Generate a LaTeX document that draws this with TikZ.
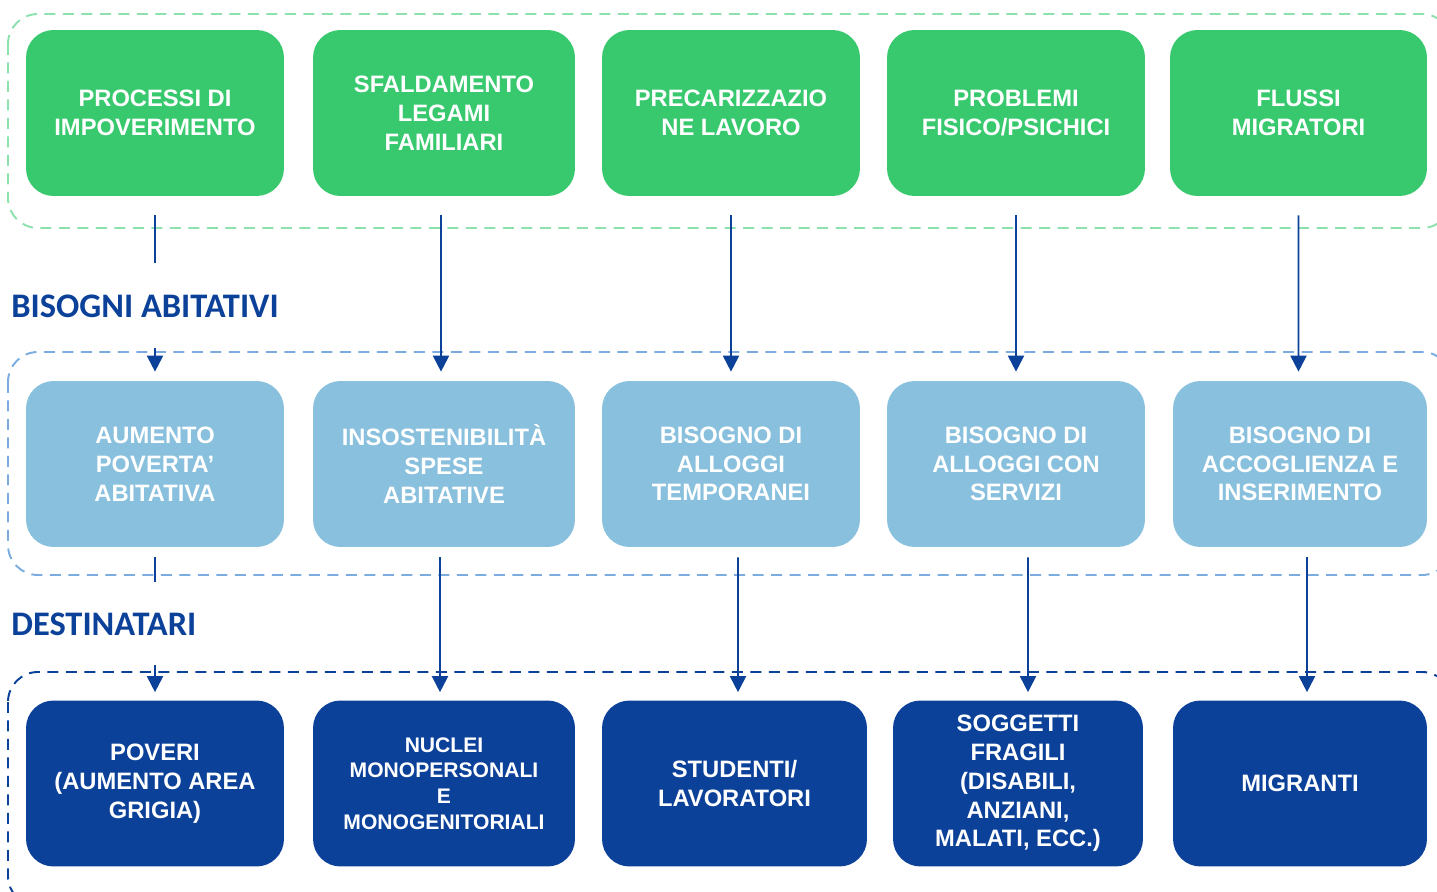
\documentclass[tikz,border=0pt]{standalone}
\usepackage{fontspec}
\setmainfont{Liberation Sans}
\newfontfamily\headfont{Carlito}
\usetikzlibrary{arrows.meta}
\definecolor{verde}{RGB}{56,201,110}
\definecolor{celeste}{RGB}{136,192,221}
\definecolor{blu}{RGB}{11,65,153}
\definecolor{bordoverde}{RGB}{140,225,172}
\definecolor{bordoceleste}{RGB}{122,172,224}
\begin{document}
\begin{tikzpicture}[x=0.02cm, y=-0.02cm,
    box/.style={rounded corners=0.55cm, minimum width=5.16cm, minimum height=3.32cm,
        text=white, align=center, inner sep=2pt,
        font=\bfseries\fontsize{13.5}{16.4}\selectfont},
    causa/.style={box, fill=verde},
    bisogno/.style={box, fill=celeste},
    dest/.style={box, fill=blu},
    frame/.style={dashed, dash pattern=on 0.22cm off 0.15cm, line width=1.1pt, rounded corners=0.6cm},
    titolo/.style={anchor=west, text=blu, font=\headfont\bfseries\fontsize{19.6}{21}\selectfont, inner sep=0pt},
    line/.style={draw=blu, line width=1.1pt},
    link/.style={line, -{Triangle[width=0.32cm,length=0.32cm]}}]
    \path[use as bounding box, clip] (0,0) rectangle (1437,892);

    % cornici tratteggiate
    \draw[frame, bordoverde] (8,14) rectangle (1452,228);
    \draw[frame, bordoceleste] (8,352) rectangle (1452,575);
    \draw[frame, blu] (8,672) rectangle (1452,906);

    % cause
    \node[causa] (p1) at (155,113) {PROCESSI DI\\IMPOVERIMENTO};
    \node[causa, minimum width=5.24cm] (p2) at (444,113) {SFALDAMENTO\\LEGAMI\\FAMILIARI};
    \node[causa] (p3) at (731,113) {PRECARIZZAZIO\\NE LAVORO};
    \node[causa] (p4) at (1016,113) {PROBLEMI\\FISICO/PSICHICI};
    \node[causa, minimum width=5.14cm] (p5) at (1298.5,113) {FLUSSI\\MIGRATORI};

    % titoli
    \node[titolo] (hb) at (11,306) {BISOGNI ABITATIVI};
    \node[titolo] (hd) at (11,624) {DESTINATARI};

    % bisogni abitativi
    \node[bisogno] (b1) at (155,464) {AUMENTO\\POVERTA’\\ABITATIVA};
    \node[bisogno, minimum width=5.24cm] (b2) at (444,464) {INSOSTENIBILITÀ\\SPESE\\ABITATIVE};
    \node[bisogno] (b3) at (731,464) {BISOGNO DI\\ALLOGGI\\TEMPORANEI};
    \node[bisogno] (b4) at (1016,464) {BISOGNO DI\\ALLOGGI CON\\SERVIZI};
    \node[bisogno, minimum width=5.08cm] (b5) at (1300,464) {BISOGNO DI\\ACCOGLIENZA E\\INSERIMENTO};

    % destinatari
    \node[dest] (d1) at (155,783.5) {POVERI\\(AUMENTO AREA\\GRIGIA)};
    \node[dest, minimum width=5.24cm, font=\bfseries\fontsize{12}{14.6}\selectfont] (d2) at (444,783.5) {NUCLEI\\MONOPERSONALI\\E\\MONOGENITORIALI};
    \node[dest, minimum width=5.3cm] (d3) at (734.5,783.5) {STUDENTI/\\LAVORATORI};
    \node[dest, minimum width=5cm] (d4) at (1018,783.5) {SOGGETTI\\FRAGILI\\(DISABILI,\\ANZIANI,\\MALATI, ECC.)};
    \node[dest, minimum width=5.08cm] (d5) at (1300,783.5) {MIGRANTI};

    % frecce prima colonna, interrotte dai titoli
    \coordinate (c1) at (155,263);
    \coordinate (c2) at (155,348);
    \coordinate (c3) at (155,582);
    \coordinate (c4) at (155,665);
    \draw[line, shorten <=0.38cm] (p1.south) -- (c1);
    \draw[link, shorten >=0.18cm] (c2) -- (b1.north);
    \draw[line, shorten <=0.2cm] (b1.south) -- (c3);
    \draw[link, shorten >=0.16cm] (c4) -- (d1.north);

    % frecce cause -> bisogni
    \draw[link, shorten <=0.38cm, shorten >=0.18cm] ([xshift=-0.06cm]p2.south) -- ([xshift=-0.06cm]b2.north);
    \draw[link, shorten <=0.38cm, shorten >=0.18cm] (p3.south) -- (b3.north);
    \draw[link, shorten <=0.38cm, shorten >=0.18cm] (p4.south) -- (b4.north);
    \draw[link, shorten <=0.38cm, shorten >=0.18cm] (p5.south) -- ([xshift=-0.03cm]b5.north);

    % frecce bisogni -> destinatari
    \draw[link, shorten <=0.2cm, shorten >=0.16cm] ([xshift=-0.08cm]b2.south) -- ([xshift=-0.08cm]d2.north);
    \draw[link, shorten <=0.2cm, shorten >=0.16cm] ([xshift=0.14cm]b3.south) -- ([xshift=0.07cm]d3.north);
    \draw[link, shorten <=0.2cm, shorten >=0.16cm] ([xshift=0.24cm]b4.south) -- ([xshift=0.2cm]d4.north);
    \draw[link, shorten <=0.2cm, shorten >=0.16cm] ([xshift=0.14cm]b5.south) -- ([xshift=0.14cm]d5.north);
\end{tikzpicture}
\end{document}
